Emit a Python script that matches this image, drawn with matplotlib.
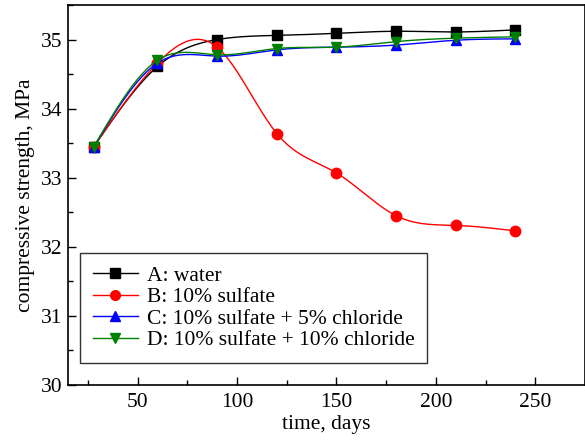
import numpy as np
import matplotlib
matplotlib.use('Agg')
import matplotlib.pyplot as plt
from matplotlib.ticker import MultipleLocator

# curing time (days) and compressive strength (MPa) per exposure solution
days = [28, 60, 90, 120, 150, 180, 210, 240]
water = [33.45, 34.61, 35.00, 35.06, 35.09, 35.12, 35.11, 35.14]
sulfate = [33.45, 34.66, 34.89, 33.64, 33.07, 32.45, 32.31, 32.23]
sulfate_cl5 = [33.45, 34.66, 34.76, 34.85, 34.89, 34.92, 34.99, 35.01]
sulfate_cl10 = [33.45, 34.70, 34.78, 34.87, 34.89, 34.97, 35.02, 35.04]

labels = ['A: water', 'B: 10% sulfate', 'C: 10% sulfate + 5% chloride',
          'D: 10% sulfate + 10% chloride']
colors = ['black', 'red', 'blue', 'green']
markers = ['s', 'o', '^', 'v']


def spline(x, y, n=300):
    # natural cubic spline through the measured points, for the smooth connector
    x = np.asarray(x, float)
    y = np.asarray(y, float)
    k = len(x)
    h = np.diff(x)
    A = np.zeros((k, k))
    r = np.zeros(k)
    A[0, 0] = A[-1, -1] = 1
    for i in range(1, k - 1):
        A[i, i - 1] = h[i - 1]
        A[i, i] = 2 * (h[i - 1] + h[i])
        A[i, i + 1] = h[i]
        r[i] = 3 * ((y[i + 1] - y[i]) / h[i] - (y[i] - y[i - 1]) / h[i - 1])
    c = np.linalg.solve(A, r)
    xs = np.linspace(x[0], x[-1], n)
    idx = np.clip(np.searchsorted(x, xs) - 1, 0, k - 2)
    t = xs - x[idx]
    hi = h[idx]
    b = (y[idx + 1] - y[idx]) / hi - hi * (2 * c[idx] + c[idx + 1]) / 3
    d = (c[idx + 1] - c[idx]) / (3 * hi)
    ys = y[idx] + b * t + c[idx] * t ** 2 + d * t ** 3
    return xs, ys


plt.rcParams['font.family'] = ['Liberation Serif', 'DejaVu Serif']

fig = plt.figure(figsize=(5.85, 4.41), dpi=100)
ax = fig.add_axes([68 / 585, 1 - 385 / 441, (585 - 68) / 585, 380 / 441])

series = [water, sulfate, sulfate_cl5, sulfate_cl10]
for vals, lab, col, mk in zip(series, labels, colors, markers):
    xs, ys = spline(days, vals)
    ax.plot(xs, ys, color=col, lw=1.0)
    ax.plot(days, vals, linestyle='none', marker=mk, color=col, ms=7.5,
            mec=col)
    ax.plot([], [], color=col, lw=1.0, marker=mk, ms=7, label=lab)

ax.set_xlim(15, 275)
ax.set_ylim(30, 35.5)
ax.xaxis.set_major_locator(MultipleLocator(50))
ax.xaxis.set_minor_locator(MultipleLocator(25))
ax.yaxis.set_major_locator(MultipleLocator(1))
ax.yaxis.set_minor_locator(MultipleLocator(0.5))
ax.tick_params(which='both', direction='in', top=False, right=False,
               labelsize=15.5, width=1)
ax.tick_params(which='major', length=6)
ax.tick_params(which='minor', length=3.5)
ax.tick_params(axis='x', which='major', pad=6)
ax.tick_params(axis='y', which='major', pad=4)
for s in ax.spines.values():
    s.set_linewidth(1.2)

ax.set_xlabel('time, days', fontsize=15.5, labelpad=2)
ax.set_ylabel('compressive strength, MPa', fontsize=15.5, labelpad=4)

leg = ax.legend(loc='lower left', bbox_to_anchor=(0.023, 0.058),
                borderaxespad=0, fontsize=15.5,
                frameon=True, fancybox=False, edgecolor='black',
                handlelength=2.1, handletextpad=0.4, labelspacing=0.06,
                borderpad=0.6)
leg.get_frame().set_linewidth(1.0)

fig.savefig('out.png', dpi=100)
